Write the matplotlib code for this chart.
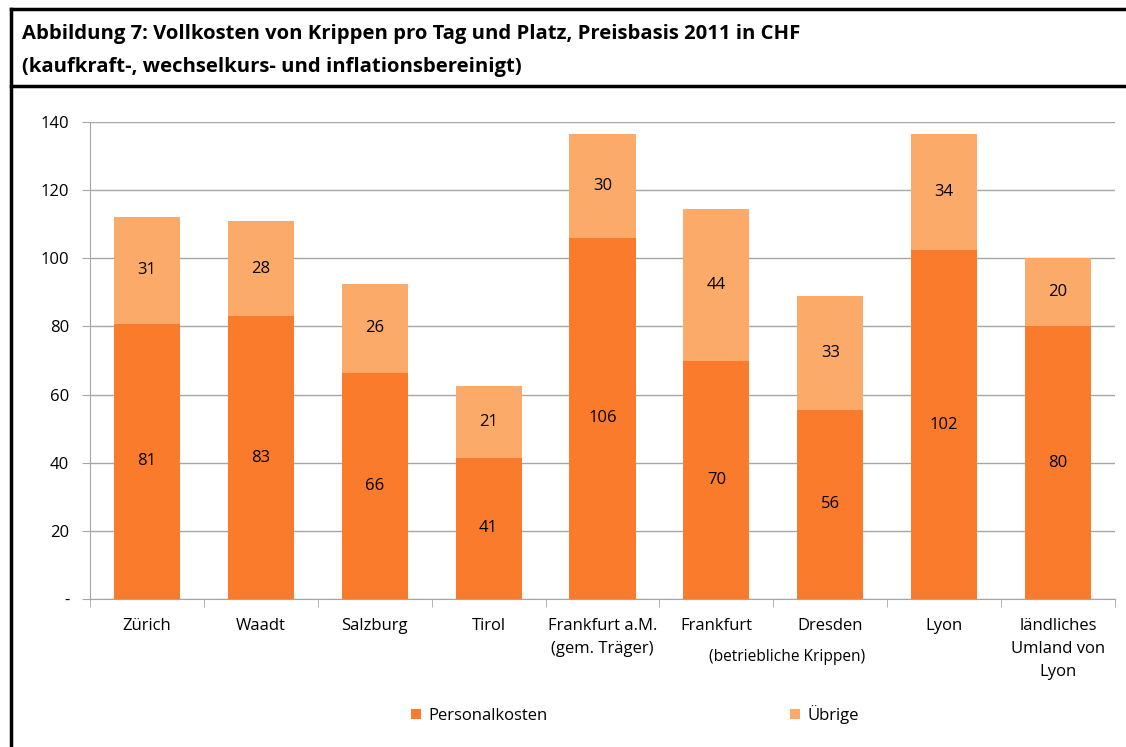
import numpy as np
import matplotlib
matplotlib.use("Agg")
import matplotlib.pyplot as plt
from matplotlib.lines import Line2D

plt.rcParams['font.family'] = ['Open Sans', 'DejaVu Sans']

orte = ["Zürich", "Waadt", "Salzburg", "Tirol", "Frankfurt a.M.\n(gem. Träger)",
        "Frankfurt", "Dresden", "Lyon", "ländliches\nUmland von\nLyon"]
personal = [80.8, 83.0, 66.4, 41.4, 106.0, 70.0, 55.6, 102.4, 80.1]
uebrige = [31.4, 28.0, 26.1, 21.1, 30.4, 44.4, 33.4, 34.1, 19.9]
yticks = [0, 20, 40, 60, 80, 100, 120, 140]
ytick_labels = ["-", "20", "40", "60", "80", "100", "120", "140"]

c_dark = "#FA7B2B"
c_light = "#FBAA6A"
fs = 12

fig = plt.figure(figsize=(11.26, 7.47), dpi=100)

# Rahmen oben/links und Trennlinie unter dem Titel
fig.add_artist(Line2D([11/1126, 11/1126], [0, 1-9/747], transform=fig.transFigure, color="black", lw=2.5))
fig.add_artist(Line2D([11/1126, 1], [1-9/747, 1-9/747], transform=fig.transFigure, color="black", lw=2.5))
fig.add_artist(Line2D([11/1126, 1], [1-86/747, 1-86/747], transform=fig.transFigure, color="black", lw=2.5))

fig.text(22/1126, 1-34/747, "Abbildung 7: Vollkosten von Krippen pro Tag und Platz, Preisbasis 2011 in CHF",
         fontsize=14.6, fontweight="bold", va="center", ha="left")
fig.text(22/1126, 1-67/747, "(kaufkraft-, wechselkurs- und inflationsbereinigt)",
         fontsize=14.6, fontweight="bold", va="center", ha="left")

ax = fig.add_axes([90/1126, 1-599/747, (1115-90)/1126, (599-122)/747])
x = np.arange(len(orte))
b1 = ax.bar(x, personal, width=0.58, color=c_dark, label="Personalkosten", zorder=3)
b2 = ax.bar(x, uebrige, width=0.58, bottom=personal, color=c_light, label="Übrige", zorder=3)

for i in range(len(orte)):
    ax.text(x[i], personal[i] / 2, f"{personal[i]:.0f}", ha="center", va="center", fontsize=fs, zorder=4)
    ax.text(x[i], personal[i] + uebrige[i] / 2, f"{uebrige[i]:.0f}", ha="center", va="center", fontsize=fs, zorder=4)

ax.set_xlim(-0.5, len(orte) - 0.5)
ax.set_ylim(0, 140)
ax.set_yticks(yticks)
ax.set_yticklabels(ytick_labels, fontsize=fs)
ax.yaxis.grid(True, color="#A6A6A6", lw=1, zorder=0)
ax.tick_params(axis="y", length=6, color="#A6A6A6", pad=9)

ax.set_xticks(x)
ax.set_xticklabels(orte, fontsize=fs, linespacing=1.55, va="top")
ax.set_xticks(np.arange(-0.5, len(orte), 1), minor=True)
ax.tick_params(axis="x", which="major", length=0, pad=14)
ax.tick_params(axis="x", which="minor", length=6, color="#A6A6A6")

ax.text(5.62, -17.0, "(betriebliche Krippen)", ha="center", va="center", fontsize=11.2)

for s in ["top", "right"]:
    ax.spines[s].set_visible(False)
ax.spines["left"].set_color("#A6A6A6")
ax.spines["bottom"].set_color("#A6A6A6")

fig.legend(handles=[b1], labels=["Personalkosten"], loc="lower left",
           bbox_to_anchor=(411/1126, 1-724/747), frameon=False, fontsize=fs,
           handlelength=0.6, handleheight=0.6, handletextpad=0.45, borderpad=0, borderaxespad=0)
fig.legend(handles=[b2], labels=["Übrige"], loc="lower left",
           bbox_to_anchor=(790/1126, 1-724/747), frameon=False, fontsize=fs,
           handlelength=0.6, handleheight=0.6, handletextpad=0.45, borderpad=0, borderaxespad=0)

fig.savefig("out.png", dpi=100)
